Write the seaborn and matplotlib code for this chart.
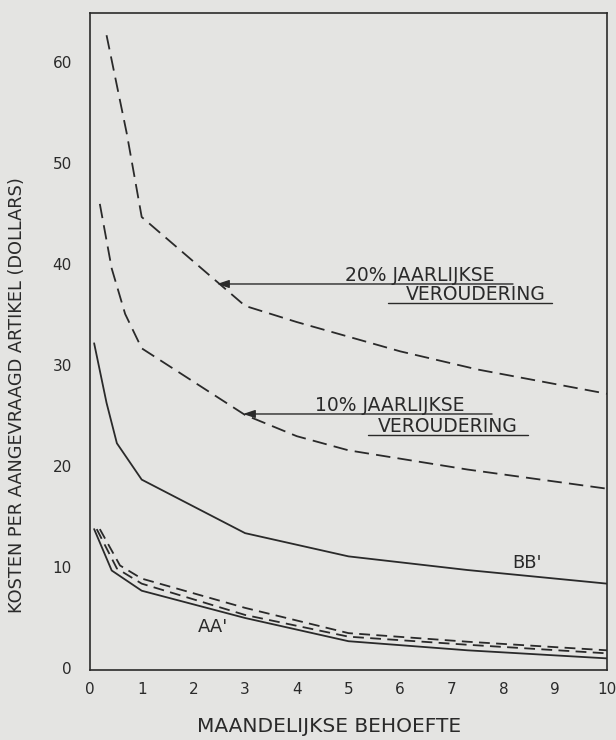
import matplotlib
matplotlib.use("Agg")
import matplotlib.pyplot as plt
import seaborn as sns
import pandas as pd

# ---- data ----
x_ticks = [0, 1, 2, 3, 4, 5, 6, 7, 8, 9, 10]
x_tick_labels = ["0", "1", "2", "3", "4", "5", "6", "7", "8", "9", "10"]
y_ticks = [0, 10, 20, 30, 40, 50, 60]
y_tick_labels = ["0", "10", "20", "30", "40", "50", "60"]

x_20 = [0.32, 0.71, 1.0, 3.0, 4.0, 6.0, 7.5, 10.0]
y_20 = [62.7, 53.0, 44.7, 35.9, 34.3, 31.4, 29.6, 27.2]

x_10 = [0.19, 0.42, 0.68, 1.0, 3.0, 4.0, 5.0, 7.3, 10.0]
y_10 = [46.0, 39.6, 35.1, 31.7, 25.1, 23.0, 21.6, 19.7, 17.8]

x_bb = [0.08, 0.32, 0.52, 1.0, 3.0, 5.0, 7.3, 10.0]
y_bb = [32.2, 26.3, 22.3, 18.7, 13.4, 11.1, 9.75, 8.4]

x_aa_solid = [0.08, 0.42, 1.0, 3.0, 5.0, 7.3, 10.0]
y_aa_solid = [13.8, 9.7, 7.7, 5.0, 2.7, 1.8, 1.0]
x_aa_mid = [0.13, 0.52, 1.0, 3.0, 5.0, 7.3, 10.0]
y_aa_mid = [13.8, 9.9, 8.4, 5.3, 3.15, 2.35, 1.5]
x_aa_top = [0.19, 0.58, 1.0, 3.0, 5.0, 7.3, 10.0]
y_aa_top = [13.8, 10.2, 8.9, 6.0, 3.5, 2.65, 1.8]

curve_names = ["20%", "10%", "BB", "AA_solid", "AA_mid", "AA_top"]
curve_x = [x_20, x_10, x_bb, x_aa_solid, x_aa_mid, x_aa_top]
curve_y = [y_20, y_10, y_bb, y_aa_solid, y_aa_mid, y_aa_top]

frames = []
for n, xs, ys in zip(curve_names, curve_x, curve_y):
    frames.append(pd.DataFrame({"x": xs, "y": ys, "curve": n}))
df = pd.concat(frames, ignore_index=True)

# ---- style ----
paper = "#e4e4e2"
ink = "#2a2a2a"
sns.set_theme(style="white", rc={"axes.facecolor": paper, "figure.facecolor": paper})
plt.rcParams["font.family"] = ["DejaVu Sans"]

fig = plt.figure(figsize=(6.16, 7.40), dpi=100)
ax = fig.add_axes([90 / 616, 1 - 670 / 740, 517 / 616, 657 / 740])

dash_map = {
    "20%": (8, 4),
    "10%": (8, 4),
    "BB": "",
    "AA_solid": "",
    "AA_mid": (6, 3.5),
    "AA_top": (6, 3.5),
}
palette = {n: ink for n in curve_names}

sns.lineplot(data=df, x="x", y="y", hue="curve", style="curve",
             palette=palette, dashes=dash_map, linewidth=1.3,
             legend=False, ax=ax, estimator=None, sort=False)

ax.set_xlim(0, 10)
ax.set_ylim(-0.15, 64.9)
ax.set_xticks(x_ticks)
ax.set_xticklabels(x_tick_labels)
ax.set_yticks(y_ticks)
ax.set_yticklabels(y_tick_labels)
ax.tick_params(axis="both", direction="in", length=7, width=1.0, color=ink,
               labelcolor=ink, labelsize=11)
ax.tick_params(axis="y", pad=13)
ax.tick_params(axis="x", pad=9)
for s in ax.spines.values():
    s.set_color(ink)
    s.set_linewidth(1.2)

ax.set_xlabel("MAANDELIJKSE BEHOEFTE", fontsize=14.5, color=ink)
ax.xaxis.set_label_coords((329 - 90) / 517, (670 - 727) / 657)
ax.set_ylabel("KOSTEN PER AANGEVRAAGD ARTIKEL (DOLLARS)", fontsize=12.8, color=ink)
ax.yaxis.set_label_coords((17 - 90) / 517, (670 - 395) / 657)
ax.xaxis.label.set_va("center")
ax.yaxis.label.set_va("center")

# ---- annotations ----
def px2x(p):
    return (p - 90) / 51.7

def px2y(p):
    return (668.5 - p) / 10.1

ann_kw = dict(fontsize=13.5, color=ink, ha="center", va="baseline")
arrow_kw = dict(arrowstyle="-|>,head_length=0.6,head_width=0.2", color=ink, lw=1.0,
                shrinkA=0, shrinkB=0)

# 20 %
ax.annotate("", xy=(px2x(217), px2y(284)), xytext=(px2x(513), px2y(284)),
            arrowprops=arrow_kw)
ax.text(px2x((332 + 508) / 2), px2y(281), "20% JAARLIJKSE", **ann_kw)
ax.text(px2x((402 + 550) / 2), px2y(300), "VEROUDERING", **ann_kw)
ax.plot([px2x(388), px2x(552)], [px2y(303), px2y(303)], color=ink, lw=1.0)

# 10 %
ax.annotate("", xy=(px2x(243), px2y(414)), xytext=(px2x(492), px2y(414)),
            arrowprops=arrow_kw)
ax.text(px2x((295 + 485) / 2), px2y(411), "10% JAARLIJKSE", **ann_kw)
ax.text(px2x((372 + 523) / 2), px2y(432), "VEROUDERING", **ann_kw)
ax.plot([px2x(368), px2x(528)], [px2y(435), px2y(435)], color=ink, lw=1.0)

ax.text(px2x(213), px2y(627), "AA'", fontsize=13, color=ink, ha="center", va="center")
ax.text(px2x(527), px2y(563), "BB'", fontsize=13, color=ink, ha="center", va="center")

fig.savefig("out.png", dpi=100, facecolor=paper)
